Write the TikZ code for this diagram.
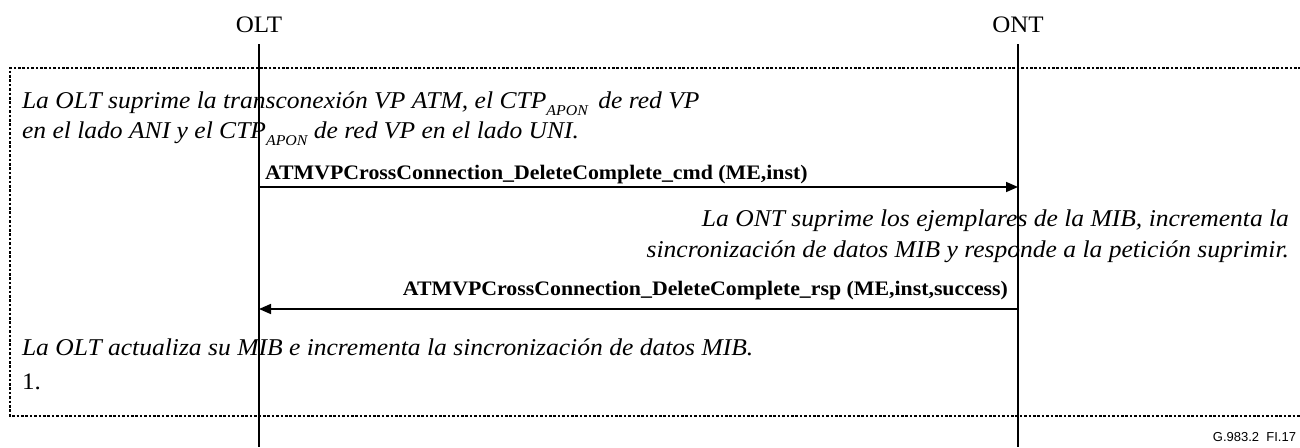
\documentclass[tikz,border=0pt]{standalone}
\usepackage{fontspec}
\setmainfont{Liberation Serif}[FakeStretch=1.06]
\setsansfont{Liberation Sans}
\usetikzlibrary{arrows.meta}
\newcommand{\apon}{\raisebox{-0.65ex}{\fontsize{15}{15}\selectfont APON}}
\begin{document}
\begin{tikzpicture}[x=1pt,y=-1pt,
  every node/.style={inner sep=0pt,outer sep=0pt,font=\fontsize{23.6}{26}\selectfont},
  lifeline/.style={line width=1.6pt},
  msg/.style={line width=1.6pt,-{Triangle[length=12pt,width=10pt]}},
  frame/.style={line width=1.3pt,dash pattern=on 2.6pt off 1.8pt},
  note/.style={font=\fontsize{24.1}{26}\selectfont\itshape},
  lbl/.style={font=\fontsize{20.6}{22}\selectfont\bfseries}]
\useasboundingbox (0,0) rectangle (1300,447);
% participants
\node (olt) at (259,25) {OLT};
\node (ont) at (1018,25) {ONT};
\coordinate (oltT) at (259,44);
\coordinate (oltB) at (259,447);
\coordinate (ontT) at (1018,44);
\coordinate (ontB) at (1018,447);
% frame
\coordinate (fTR) at (1301,68);
\coordinate (fTL) at (10,68);
\coordinate (fBL) at (10,416);
\coordinate (fBR) at (1301,416);
\draw[frame] (fTR) -- (fTL) -- (fBL) -- (fBR);
% lifelines
\draw[lifeline] (oltT) -- (oltB);
\draw[lifeline] (ontT) -- (ontB);
% notes
\node[note,anchor=base west] (n1) at (22,108) {La OLT suprime la transconexión VP ATM, el CTP\apon\ \,de red VP};
\node[note,anchor=base west] (n2) at (22,138) {en el lado ANI y el CTP\apon\ de red VP en el lado UNI.};
% message 1
\coordinate (m1s) at (259,187);
\coordinate (m1e) at (1018,187);
\draw[msg] (m1s) -- (m1e);
\node[lbl,anchor=base west] (l1) at (265,179) {ATMVPCrossConnection\_DeleteComplete\_cmd (ME,inst)};
% ONT note
\node[note,anchor=base east] (n3) at (1289,226) {La ONT suprime los ejemplares de la MIB, incrementa la};
\node[note,anchor=base east] (n4) at (1289,257) {sincronización de datos MIB y responde a la petición suprimir.};
% message 2
\coordinate (m2s) at (1018,309);
\coordinate (m2e) at (259,309);
\draw[msg] (m2s) -- (m2e);
\node[lbl,anchor=base east] (l2) at (1008,295) {ATMVPCrossConnection\_DeleteComplete\_rsp (ME,inst,success)};
% OLT note
\node[note,anchor=base west] (n5) at (22,355) {La OLT actualiza su MIB e incrementa la sincronización de datos MIB.};
\node[anchor=base west] (n6) at (22,389) {1.};
% figure id
\node[font=\fontsize{13}{15}\selectfont\sffamily,anchor=base east] (fig) at (1296,441) {G.983.2\ \ FI.17};
\end{tikzpicture}
\end{document}
